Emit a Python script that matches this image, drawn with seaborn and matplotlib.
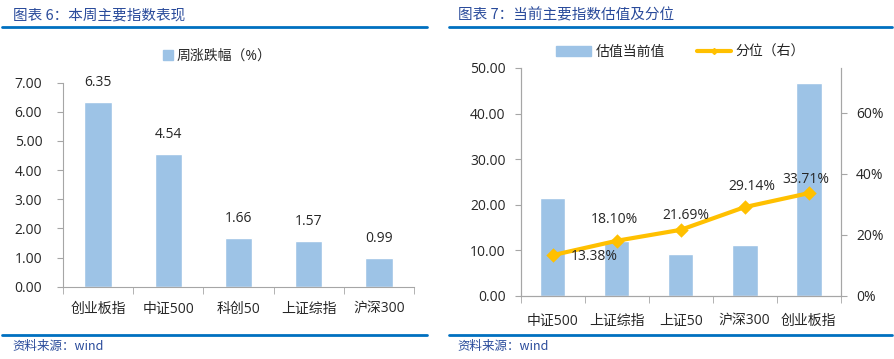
import numpy as np
import pandas as pd
import matplotlib
matplotlib.use("Agg")
import matplotlib.pyplot as plt
from matplotlib.patches import Patch
from matplotlib.lines import Line2D
from matplotlib.ticker import FuncFormatter
import seaborn as sns

sns.set_style("white")
plt.rcParams['font.family'] = ['Open Sans', 'Noto Sans CJK SC', 'DejaVu Sans']

# weekly change data
week_names = ["创业板指", "中证500", "科创50", "上证综指", "沪深300"]
week_change = [6.35, 4.54, 1.66, 1.57, 0.99]

# valuation data
val_names = ["中证500", "上证综指", "上证50", "沪深300", "创业板指"]
val_current = [21.4, 12.0, 9.3, 11.25, 46.6]
val_pct = [0.1338, 0.1810, 0.2169, 0.2914, 0.3371]

bar_color = "#9DC3E6"
line_color = "#FFC000"
spine_color = "#A6A6A6"
text_color = "#262626"
title_color = "#2A4B9B"
rule_color = "#0070C0"
cjk = ['Noto Sans CJK SC', 'DejaVu Sans']

fig = plt.figure(figsize=(8.94, 3.59), dpi=100)

def style_axis(ax, ypad, xpad):
    for s in ax.spines.values():
        s.set_color(spine_color)
    ax.tick_params(axis="y", colors=spine_color, labelcolor=text_color,
                   length=4, labelsize=10, direction="out", left=True, pad=ypad)
    ax.tick_params(axis="x", which="major", length=0, labelsize=10,
                   labelcolor=text_color, pad=xpad)
    ax.tick_params(axis="x", which="minor", length=5, color=spine_color,
                   direction="out", bottom=True)

# ---- left: weekly change
ax1 = fig.add_axes([0.0705, 0.2014, 0.3925, 0.5682])
df1 = pd.DataFrame({"name": week_names, "chg": week_change})
sns.barplot(data=df1, x="name", y="chg", color=bar_color, width=0.39,
            saturation=1, ax=ax1)
ax1.set_ylim(0, 7)
ax1.set_yticks(np.arange(0, 8, 1))
ax1.yaxis.set_major_formatter(FuncFormatter(lambda v, p: f"{v:.2f}"))
ax1.set_xlim(-0.5, len(week_names) - 0.5)
ax1.set_xticks(np.arange(-0.5, len(week_names), 1), minor=True)
ax1.set_xlabel("")
ax1.set_ylabel("")
sns.despine(ax=ax1, top=True, right=True)
style_axis(ax1, ypad=11, xpad=11)
for i, v in enumerate(week_change):
    ax1.annotate(f"{v:.2f}", (i, v), xytext=(0, 14), textcoords="offset points",
                 ha="center", va="center", fontsize=10, color=text_color)
ax1.legend(handles=[Patch(color=bar_color, label="周涨跌幅（%）")],
           loc="center", bbox_to_anchor=(0.44, 1.13), frameon=False,
           fontsize=10, handlelength=0.7, handleheight=0.7, handletextpad=0.3,
           labelcolor=text_color)

# ---- right: valuation + percentile
ax2 = fig.add_axes([0.5824, 0.1755, 0.358, 0.6351])
df2 = pd.DataFrame({"name": val_names, "val": val_current, "pct": val_pct})
sns.barplot(data=df2, x="name", y="val", color=bar_color, width=0.4,
            saturation=1, ax=ax2)
ax2.set_ylim(0, 50)
ax2.set_yticks(np.arange(0, 51, 10))
ax2.yaxis.set_major_formatter(FuncFormatter(lambda v, p: f"{v:.2f}"))
ax2.set_xlim(-0.5, len(val_names) - 0.5)
ax2.set_xticks(np.arange(-0.5, len(val_names), 1), minor=True)
ax2.set_xlabel("")
ax2.set_ylabel("")
style_axis(ax2, ypad=7, xpad=13)
ax2.spines["top"].set_visible(False)

ax3 = ax2.twinx()
sns.pointplot(data=df2, x="name", y="pct", color=line_color, markers="D",
              markersize=5, linewidth=3, ax=ax3)
ax3.set_xlim(-0.5, len(val_names) - 0.5)
ax3.set_ylim(0, 0.7475)
ax3.set_yticks([0, 0.2, 0.4, 0.6])
ax3.yaxis.set_major_formatter(FuncFormatter(lambda v, p: f"{v:.0%}"))
ax3.set_ylabel("")
for s in ax3.spines.values():
    s.set_color(spine_color)
ax3.spines["top"].set_visible(False)
ax3.tick_params(axis="y", colors=spine_color, labelcolor=text_color,
                length=4, labelsize=10, direction="out", right=True, pad=7)

offsets = [(30, -1), (-1.5, 15), (3.5, 10), (5, 15), (-2, 10)]
for i, (v, off) in enumerate(zip(val_pct, offsets)):
    ax3.annotate(f"{v:.2%}", (i, v), xytext=off, textcoords="offset points",
                 ha="center", va="center", fontsize=10, color=text_color)

ax2.legend(handles=[Patch(color=bar_color, label="估值当前值"),
                    Line2D([0], [0], color=line_color, lw=3, marker="D",
                           markersize=3, label="分位（右）")],
           loc="center", bbox_to_anchor=(0.5, 1.07), ncol=2, frameon=False,
           fontsize=10, handlelength=2.5, handleheight=0.7, handletextpad=0.3,
           columnspacing=2.3, labelcolor=text_color)

# ---- titles, rules and sources
fig.text(0.014, 0.958, "图表 6：本周主要指数表现", fontsize=10.5, family=cjk,
         color=title_color, style="italic", va="center")
fig.text(0.512, 0.958, "图表 7：当前主要指数估值及分位", fontsize=10.5, family=cjk,
         color=title_color, style="italic", va="center")
fig.add_artist(Line2D([0.002, 0.478], [0.925, 0.925], color=rule_color, lw=2))
fig.add_artist(Line2D([0.502, 0.998], [0.925, 0.925], color=rule_color, lw=2))
fig.add_artist(Line2D([0.002, 0.478], [0.066, 0.066], color=rule_color, lw=2))
fig.add_artist(Line2D([0.502, 0.998], [0.068, 0.068], color=rule_color, lw=2))
fig.text(0.014, 0.035, "资料来源：wind", fontsize=9, color=title_color,
         family=cjk, style="italic", va="center")
fig.text(0.512, 0.035, "资料来源：wind", fontsize=9, color=title_color,
         family=cjk, style="italic", va="center")

fig.savefig("out.png", dpi=100)
